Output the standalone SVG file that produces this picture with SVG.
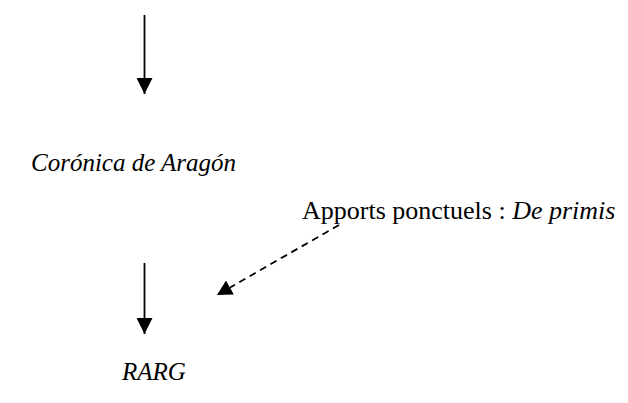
<svg xmlns="http://www.w3.org/2000/svg" width="628" height="403" viewBox="0 0 628 403">
<style>
text{font-family:"Liberation Serif","Times New Roman",Times,serif;font-size:25px;fill:#000}
.i{font-style:italic}
.ln{stroke:#000;stroke-width:1.8;fill:none}
</style>
<defs>
<marker id="ahb" viewBox="0 0 16 16" refX="16" refY="8" markerWidth="16" markerHeight="16" markerUnits="userSpaceOnUse" orient="auto">
<path d="M0,0L16,8L0,16Z" fill="#000"/>
</marker>
<marker id="ahd" viewBox="0 0 15 16" refX="15" refY="8" markerWidth="15" markerHeight="16" markerUnits="userSpaceOnUse" orient="auto">
<path d="M0,0L15,8L0,16Z" fill="#000"/>
</marker>
</defs>
<g id="connectors">
<line class="ln" x1="144.5" y1="15" x2="144.5" y2="94" marker-end="url(#ahb)"/>
<line class="ln" x1="144.5" y1="263" x2="144.5" y2="334" marker-end="url(#ahb)"/>
<line class="ln" x1="339" y1="225" x2="217" y2="295" stroke-dasharray="7,5" marker-end="url(#ahd)"/>
</g>
<g id="coronica"><text class="i" x="31" y="171">Corónica de Aragón</text></g>
<g id="apports"><text x="302" y="219" style="font-size:26px">Apports ponctuels : <tspan class="i">De primis</tspan></text></g>
<g id="rarg"><text class="i" x="122" y="380">RARG</text></g>
</svg>
